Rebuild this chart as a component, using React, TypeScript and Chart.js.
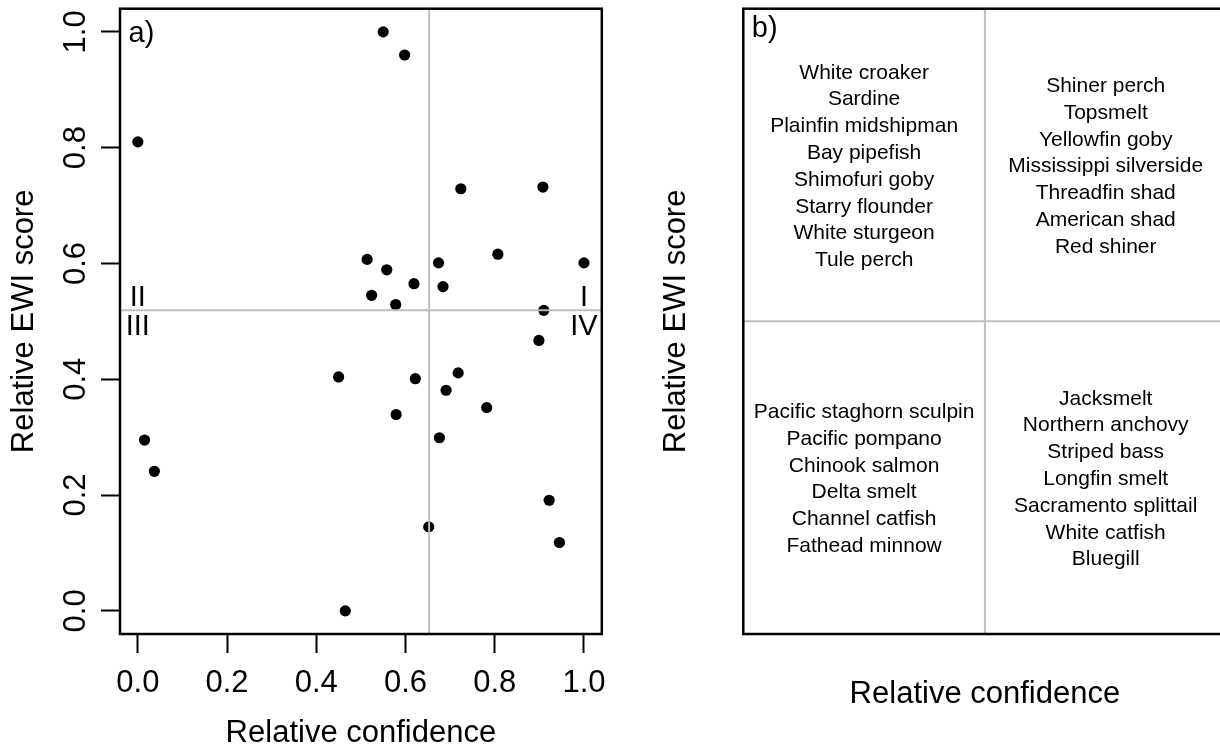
import React, { useEffect, useRef } from "react";
import { Chart, registerables } from "chart.js";

Chart.register(...registerables);

// ---------- data ----------
const confidence = [
  0.0, 0.015, 0.037, 0.465, 0.45, 0.514, 0.524, 0.55, 0.558, 0.578, 0.579, 0.598, 0.619, 0.622, 0.652,
  0.674, 0.676, 0.684, 0.691, 0.718, 0.724, 0.782, 0.807, 0.899, 0.908, 0.91, 0.922, 0.945, 1.0,
];
const ewiScore = [
  0.81, 0.295, 0.241, 0.0, 0.404, 0.607, 0.545, 1.0, 0.589, 0.529, 0.339, 0.96, 0.565, 0.401, 0.145,
  0.601, 0.299, 0.56, 0.381, 0.411, 0.729, 0.351, 0.616, 0.467, 0.732, 0.519, 0.191, 0.118, 0.601,
];
const tickValues = [0, 0.2, 0.4, 0.6, 0.8, 1.0];
const confidenceCut = 0.653;
const ewiCut = 0.519;
const axisMin = -0.04;
const axisMax = 1.04;

const quadrantI = [
  "Shiner perch",
  "Topsmelt",
  "Yellowfin goby",
  "Mississippi silverside",
  "Threadfin shad",
  "American shad",
  "Red shiner",
];
const quadrantII = [
  "White croaker",
  "Sardine",
  "Plainfin midshipman",
  "Bay pipefish",
  "Shimofuri goby",
  "Starry flounder",
  "White sturgeon",
  "Tule perch",
];
const quadrantIII = [
  "Pacific staghorn sculpin",
  "Pacific pompano",
  "Chinook salmon",
  "Delta smelt",
  "Channel catfish",
  "Fathead minnow",
];
const quadrantIV = [
  "Jacksmelt",
  "Northern anchovy",
  "Striped bass",
  "Longfin smelt",
  "Sacramento splittail",
  "White catfish",
  "Bluegill",
];

const FONT = "'Liberation Sans', Arial, Helvetica, sans-serif";
const GREY = "#bebebe";

const boxPlugin = {
  id: "box",
  afterDatasetsDraw(chart: any) {
    const { ctx, chartArea: a } = chart;
    ctx.save();
    ctx.strokeStyle = "#000";
    ctx.lineWidth = 2.5;
    ctx.strokeRect(a.left, a.top, a.right - a.left, a.bottom - a.top);
    ctx.restore();
  },
};

const panelAText = {
  id: "panelAText",
  afterDraw(chart: any) {
    const { ctx, chartArea: a } = chart;
    const xs = chart.scales.x;
    const ys = chart.scales.y;
    ctx.save();
    ctx.fillStyle = "#000";
    // y tick labels, rotated like R's las=0
    ctx.font = `31px ${FONT}`;
    ctx.textAlign = "center";
    ctx.textBaseline = "middle";
    for (const t of ys.ticks) {
      const py = ys.getPixelForValue(t.value);
      ctx.save();
      ctx.translate(ys.right - 43.5, py);
      ctx.rotate(-Math.PI / 2);
      ctx.fillText(Number(t.value).toFixed(1), 0, 0);
      ctx.restore();
    }
    // panel letter
    ctx.font = `29px ${FONT}`;
    ctx.textAlign = "left";
    ctx.textBaseline = "alphabetic";
    ctx.fillText("a)", a.left + 8.5, a.top + 33);
    // quadrant numerals
    ctx.textAlign = "center";
    const yc = ys.getPixelForValue(ewiCut);
    const x0 = xs.getPixelForValue(0);
    const x1 = xs.getPixelForValue(1);
    ctx.fillText("II", x0, yc - 4.5);
    ctx.fillText("III", x0, yc + 25);
    ctx.fillText("I", x1, yc - 4.5);
    ctx.fillText("IV", x1, yc + 25);
    ctx.restore();
  },
};

const panelBText = {
  id: "panelBText",
  afterDraw(chart: any) {
    const { ctx, chartArea: a } = chart;
    const xs = chart.scales.x;
    const ys = chart.scales.y;
    ctx.save();
    ctx.fillStyle = "#000";
    ctx.font = `29px ${FONT}`;
    ctx.textAlign = "left";
    ctx.textBaseline = "alphabetic";
    ctx.fillText("b)", a.left + 8.5, a.top + 28);
    ctx.font = `21px ${FONT}`;
    ctx.textAlign = "center";
    ctx.textBaseline = "middle";
    const lh = 26.8;
    const groups: [string[], number, number][] = [
      [quadrantII, 0.25, 0.75],
      [quadrantI, 0.75, 0.75],
      [quadrantIII, 0.25, 0.25],
      [quadrantIV, 0.75, 0.25],
    ];
    for (const [names, gx, gy] of groups) {
      const cx = xs.getPixelForValue(gx);
      const cy = ys.getPixelForValue(gy) + 1.5;
      const start = cy - ((names.length - 1) * lh) / 2;
      names.forEach((n, i) => ctx.fillText(n, cx, start + i * lh));
    }
    ctx.restore();
  },
};

function PanelA() {
  const ref = useRef<HTMLCanvasElement>(null);
  useEffect(() => {
    if (!ref.current) return;
    const chart = new Chart(ref.current, {
      type: "scatter",
      data: {
        datasets: [
          {
            data: [
              { x: confidenceCut, y: axisMin },
              { x: confidenceCut, y: axisMax },
            ],
            showLine: true,
            borderColor: GREY,
            borderWidth: 2,
            pointRadius: 0,
            order: 0,
          },
          {
            data: [
              { x: axisMin, y: ewiCut },
              { x: axisMax, y: ewiCut },
            ],
            showLine: true,
            borderColor: GREY,
            borderWidth: 2,
            pointRadius: 0,
            order: 0,
          },
          {
            data: confidence.map((c, i) => ({ x: c, y: ewiScore[i] })),
            pointRadius: 5.6,
            pointBackgroundColor: "#000",
            pointBorderWidth: 0,
            borderWidth: 0,
            order: 1,
          },
        ],
      } as any,
      options: {
        responsive: false,
        animation: false,
        devicePixelRatio: 1,
        events: [],
        layout: { padding: { top: 8.7, right: 18.2, left: 0, bottom: 0 } },
        plugins: { legend: { display: false }, tooltip: { enabled: false } },
        scales: {
          x: {
            type: "linear",
            min: axisMin,
            max: axisMax,
            afterBuildTicks: (s: any) => {
              s.ticks = tickValues.map((v) => ({ value: v }));
            },
            afterFit: (s: any) => {
              s.height = 113;
            },
            ticks: {
              font: { family: FONT, size: 31 },
              color: "#000",
              padding: 12,
              maxRotation: 0,
              minRotation: 0,
              autoSkip: false,
              callback: (v: any) => Number(v).toFixed(1),
            },
            grid: {
              drawOnChartArea: false,
              drawTicks: true,
              tickLength: 19,
              tickWidth: 2,
              tickColor: "#000",
            },
            border: { display: false },
            title: {
              display: true,
              text: "Relative confidence",
              color: "#000",
              font: { family: FONT, size: 31, lineHeight: 1 },
              padding: { top: 0, bottom: -2 },
            },
          },
          y: {
            type: "linear",
            min: axisMin,
            max: axisMax,
            afterBuildTicks: (s: any) => {
              s.ticks = tickValues.map((v) => ({ value: v }));
            },
            afterFit: (s: any) => {
              s.width = 120;
            },
            ticks: { display: false },
            grid: {
              drawOnChartArea: false,
              drawTicks: true,
              tickLength: 19,
              tickWidth: 2,
              tickColor: "#000",
            },
            border: { display: false },
            title: {
              display: true,
              text: "Relative EWI score",
              color: "#000",
              font: { family: FONT, size: 31, lineHeight: 1 },
              padding: { top: 8.5, bottom: 0 },
            },
          },
        },
      } as any,
      plugins: [boxPlugin, panelAText],
    });
    return () => chart.destroy();
  }, []);
  return (
    <canvas
      ref={ref}
      width={620}
      height={747}
      style={{ position: "absolute", left: 0, top: 0, width: 620, height: 747 }}
    />
  );
}

function PanelB() {
  const ref = useRef<HTMLCanvasElement>(null);
  useEffect(() => {
    if (!ref.current) return;
    const chart = new Chart(ref.current, {
      type: "scatter",
      data: {
        datasets: [
          {
            data: [
              { x: 0.5, y: 0 },
              { x: 0.5, y: 1 },
            ],
            showLine: true,
            borderColor: GREY,
            borderWidth: 2,
            pointRadius: 0,
          },
          {
            data: [
              { x: 0, y: 0.5 },
              { x: 1, y: 0.5 },
            ],
            showLine: true,
            borderColor: GREY,
            borderWidth: 2,
            pointRadius: 0,
          },
        ],
      } as any,
      options: {
        responsive: false,
        animation: false,
        devicePixelRatio: 1,
        events: [],
        layout: { padding: { top: 8.7, right: 13.5, left: 0, bottom: 0 } },
        plugins: { legend: { display: false }, tooltip: { enabled: false } },
        scales: {
          x: {
            type: "linear",
            min: 0,
            max: 1,
            afterFit: (s: any) => {
              s.height = 113;
            },
            ticks: { display: false },
            grid: { display: false },
            border: { display: false },
            title: {
              display: true,
              text: "Relative confidence",
              color: "#000",
              font: { family: FONT, size: 31, lineHeight: 1 },
              padding: { top: 0, bottom: 37 },
            },
          },
          y: {
            type: "linear",
            min: 0,
            max: 1,
            afterFit: (s: any) => {
              s.width = 123.3;
            },
            ticks: { display: false },
            grid: { display: false },
            border: { display: false },
            title: {
              display: true,
              text: "Relative EWI score",
              color: "#000",
              font: { family: FONT, size: 31, lineHeight: 1 },
              padding: { top: 40.5, bottom: 0 },
            },
          },
        },
      } as any,
      plugins: [boxPlugin, panelBText],
    });
    return () => chart.destroy();
  }, []);
  return (
    <canvas
      ref={ref}
      width={620}
      height={747}
      style={{ position: "absolute", left: 620, top: 0, width: 620, height: 747 }}
    />
  );
}

export default function App() {
  return (
    <div
      style={{
        position: "fixed",
        left: 0,
        top: 0,
        width: 1220,
        height: 747,
        overflow: "hidden",
        background: "#fff",
      }}
    >
      <PanelA />
      <PanelB />
    </div>
  );
}
